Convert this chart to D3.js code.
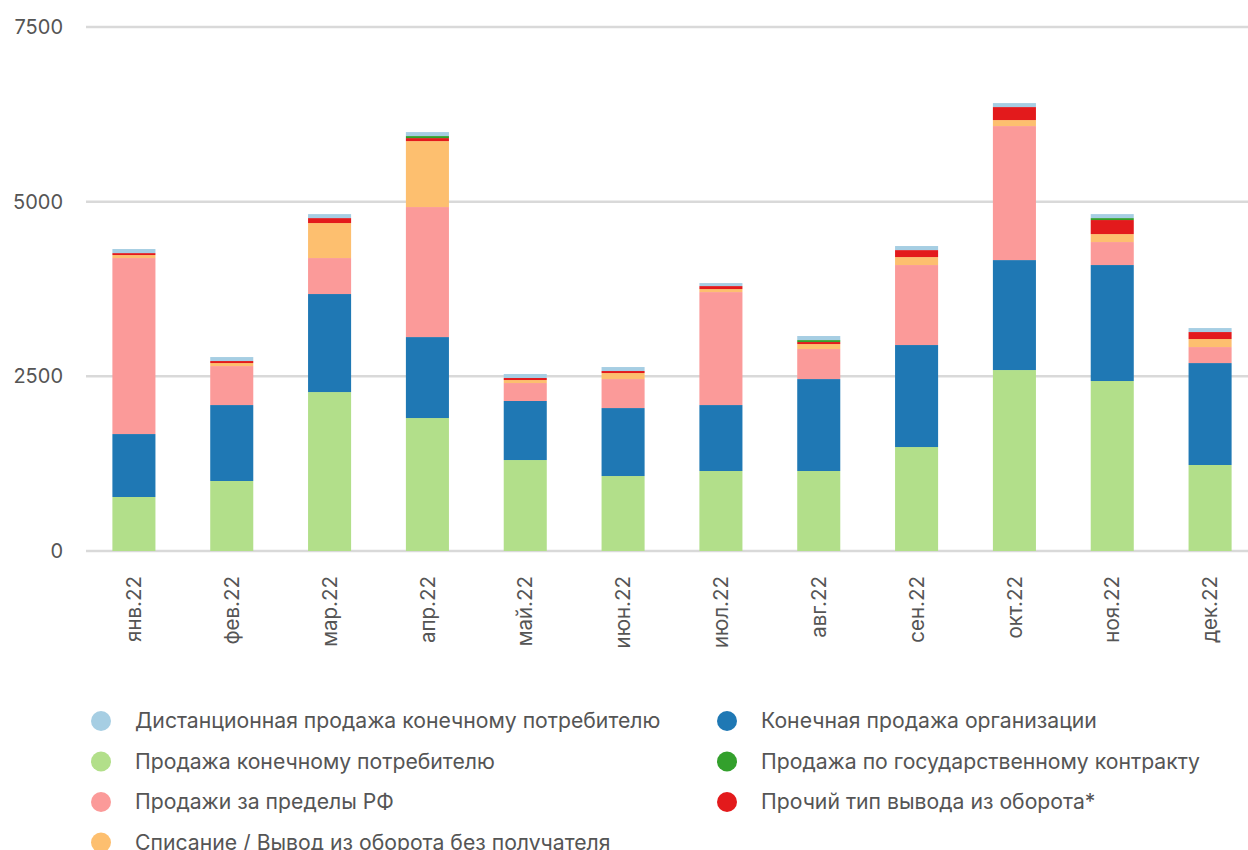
<!DOCTYPE html>
<html><head><meta charset="utf-8">
<script src="https://cdn.jsdelivr.net/npm/d3@7"></script>
<style>body{margin:0;background:#fff;} text{font-family:Inter,"Noto Sans",sans-serif;}</style>
</head><body><svg id="c" width="1248" height="850"></svg>
<script>
const months = ["янв.22","фев.22","мар.22","апр.22","май.22","июн.22","июл.22","авг.22","сен.22","окт.22","ноя.22","дек.22"];
const seriesNames = [
  "Продажа конечному потребителю",
  "Конечная продажа организации",
  "Продажи за пределы РФ",
  "Списание / Вывод из оборота без получателя",
  "Прочий тип вывода из оборота*",
  "Продажа по государственному контракту",
  "Дистанционная продажа конечному потребителю"
];
const consumer   = [773, 1002, 2275, 1903, 1302, 1073, 1145, 1145, 1488, 2590, 2433, 1231];
const organiz    = [901, 1087, 1403, 1159, 845, 973, 944, 1316, 1460, 1574, 1660, 1459];
const abroad     = [2519, 558, 515, 1861, 257, 415, 1617, 430, 1145, 1918, 329, 229];
const writeoff   = [43, 43, 501, 944, 43, 86, 43, 71, 114, 86, 114, 115];
const other      = [28, 29, 71, 43, 29, 29, 43, 29, 100, 186, 201, 100];
const govContract= [0, 0, 0, 29, 0, 0, 0, 28, 0, 0, 28, 0];
const remote     = [58, 57, 57, 57, 57, 57, 43, 58, 58, 57, 57, 57];
const yTicks = [0, 2500, 5000, 7500];
const colors = ["#b2df8a","#1f78b4","#fb9a99","#fdbf6f","#e31a1c","#33a02c","#a6cee3"];
const legendOrder = [
  "Дистанционная продажа конечному потребителю",
  "Конечная продажа организации",
  "Продажа конечному потребителю",
  "Продажа по государственному контракту",
  "Продажи за пределы РФ",
  "Прочий тип вывода из оборота*",
  "Списание / Вывод из оборота без получателя"
];

const seriesVals = [consumer, organiz, abroad, writeoff, other, govContract, remote];
const table = months.map((m,i)=>{const o={month:m}; seriesNames.forEach((s,j)=>o[s]=seriesVals[j][i]); return o;});
const stack = d3.stack().keys(seriesNames)(table);
const color = d3.scaleOrdinal().domain(seriesNames).range(colors);

const svg = d3.select("#c");
const x = d3.scaleBand().domain(months).range([85, 1259]).paddingInner(0.56).paddingOuter(0.28);
const y = d3.scaleLinear().domain([0, 7500]).range([551, 27]);

// grid
const g = svg.append("g");
g.selectAll("line").data(yTicks).join("line")
  .attr("x1", 86).attr("x2", 1248)
  .attr("y1", d=>y(d)).attr("y2", d=>y(d))
  .attr("stroke", "#d9d9d9").attr("stroke-width", 2.5);
g.selectAll("text").data(yTicks).join("text")
  .attr("x", 63).attr("y", d=>y(d)).attr("dy", "0.35em")
  .attr("text-anchor", "end").attr("fill", "#555").attr("font-size", 20)
  .text(d=>d);

// bars
svg.append("g").selectAll("g").data(stack).join("g")
  .attr("fill", d=>color(d.key))
  .selectAll("rect").data(d=>d).join("rect")
  .attr("x", d=>x(d.data.month)).attr("width", x.bandwidth())
  .attr("y", d=>y(d[1])).attr("height", d=>Math.max(0, y(d[0])-y(d[1])));

// x labels
svg.append("g").selectAll("text").data(months).join("text")
  .attr("transform", d=>`translate(${x(d)+x.bandwidth()/2},576) rotate(-90)`)
  .attr("text-anchor", "end").attr("dy", "0.35em")
  .attr("fill", "#555").attr("font-size", 20.5)
  .text(d=>d);

// legend
const lg = svg.append("g");
legendOrder.forEach((name,i)=>{
  const col = i%2, row = Math.floor(i/2);
  const lx = col===0 ? 101 : 727;
  const ly = 721 + row*40.5;
  lg.append("circle").attr("cx", lx).attr("cy", ly).attr("r", 10).attr("fill", color(name));
  lg.append("text").attr("x", lx+34).attr("y", ly).attr("dy","0.35em")
    .attr("fill","#555").attr("font-size", 21.2).text(name);
});
</script></body></html>
